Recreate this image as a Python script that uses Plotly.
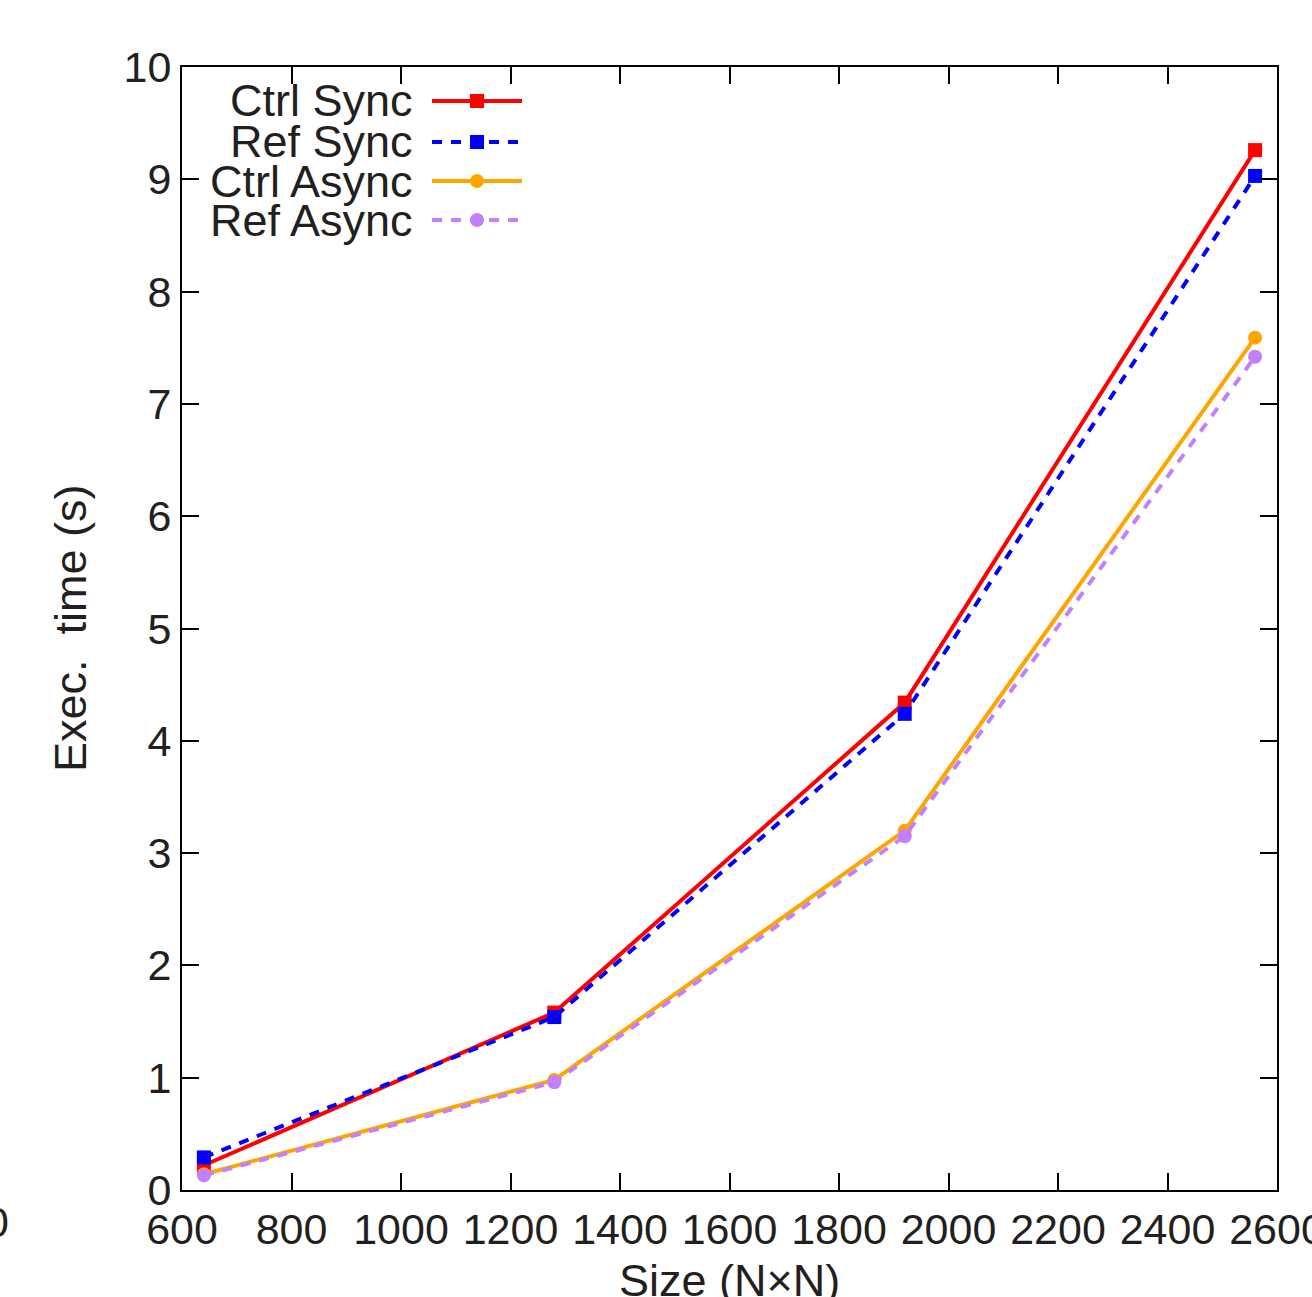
import plotly.graph_objects as go

sizes = [640, 1280, 1920, 2560]
ctrl_sync = [0.22, 1.58, 4.34, 9.26]
ref_sync = [0.29, 1.54, 4.24, 9.03]
ctrl_async = [0.14, 0.98, 3.20, 7.59]
ref_async = [0.13, 0.96, 3.15, 7.42]

series_names = ["Ctrl Sync", "Ref Sync", "Ctrl Async", "Ref Async"]
series_values = [ctrl_sync, ref_sync, ctrl_async, ref_async]
colors = ["#ff0000", "#0000ff", "#ffa500", "#c080ff"]
dashes = ["solid", "10px,9px", "solid", "10px,9px"]
symbols = ["square", "square", "circle", "circle"]

FONT = "Liberation Sans, DejaVu Sans, sans-serif"
TXT = "#231f20"
OFF = 0  # body margin removed via post_script

fig = go.Figure()
for name, vals, c, d, s in zip(series_names, series_values, colors, dashes, symbols):
    fig.add_trace(go.Scatter(
        x=sizes, y=vals, name=name, mode="lines+markers",
        line=dict(color=c, width=4, dash=d),
        marker=dict(symbol=s, size=14, color=c, line=dict(width=0)),
        showlegend=False,
    ))

W, H = 1312, 1297
L, R, T, B = 182, 35, 67, 107
pw, ph = W - L - R, H - T - B

def px_x(px):  # screen pixel -> paper
    return (px - OFF - L) / pw

def px_y(py):
    return (H - B - (py - OFF)) / ph

shapes = []
annotations = []
legend_rows = [101, 142, 181, 220]
for name, c, d, s, py in zip(series_names, colors, dashes, symbols, legend_rows):
    yy = px_y(py)
    annotations.append(dict(
        x=px_x(415), y=yy, xref="paper", yref="paper", text=name, showarrow=False,
        xanchor="right", yanchor="middle", font=dict(family=FONT, size=45, color=TXT)))
    shapes.append(dict(type="line", xref="paper", yref="paper",
                       x0=px_x(432), x1=px_x(522), y0=yy, y1=yy,
                       line=dict(color=c, width=4, dash=d)))
    half = 7
    kind = "rect" if s == "square" else "circle"
    shapes.append(dict(type=kind, xref="paper", yref="paper",
                       x0=px_x(477 - half), x1=px_x(477 + half),
                       y0=px_y(py + half), y1=px_y(py - half),
                       fillcolor=c, line=dict(width=0)))

annotations.append(dict(x=px_x(70), y=px_y(628), xref="paper", yref="paper",
                        text="Exec.  time (s)", textangle=-90, showarrow=False,
                        xanchor="center", yanchor="middle",
                        font=dict(family=FONT, size=45, color=TXT)))
annotations.append(dict(x=px_x(729), y=px_y(1280), xref="paper", yref="paper",
                        text="Size (N×N)", showarrow=False,
                        xanchor="center", yanchor="middle",
                        font=dict(family=FONT, size=45, color=TXT)))
annotations.append(dict(x=px_x(11), y=px_y(1222), xref="paper", yref="paper",
                        text="0", showarrow=False,
                        xanchor="right", yanchor="middle",
                        font=dict(family=FONT, size=43, color=TXT)))

axis_common = dict(
    showgrid=False, zeroline=False, showline=True, linecolor="black", linewidth=2,
    mirror="ticks", ticks="inside", ticklen=17, tickwidth=2, tickcolor="black",
    tickfont=dict(family=FONT, size=43, color=TXT),
    ticklabeloverflow="allow", automargin=False,
)

fig.update_layout(
    width=W, height=H,
    margin=dict(l=L, r=R, t=T, b=B, autoexpand=False),
    plot_bgcolor="white", paper_bgcolor="white",
    xaxis=dict(range=[600, 2600], dtick=200, tick0=600, **axis_common),
    yaxis=dict(range=[0, 10], dtick=1, **axis_common),
    shapes=shapes, annotations=annotations,
    showlegend=False,
)

fig.write_html("out.html", config={"displayModeBar": False},
               post_script="document.body.style.margin='0px';document.body.style.overflow='hidden';")
